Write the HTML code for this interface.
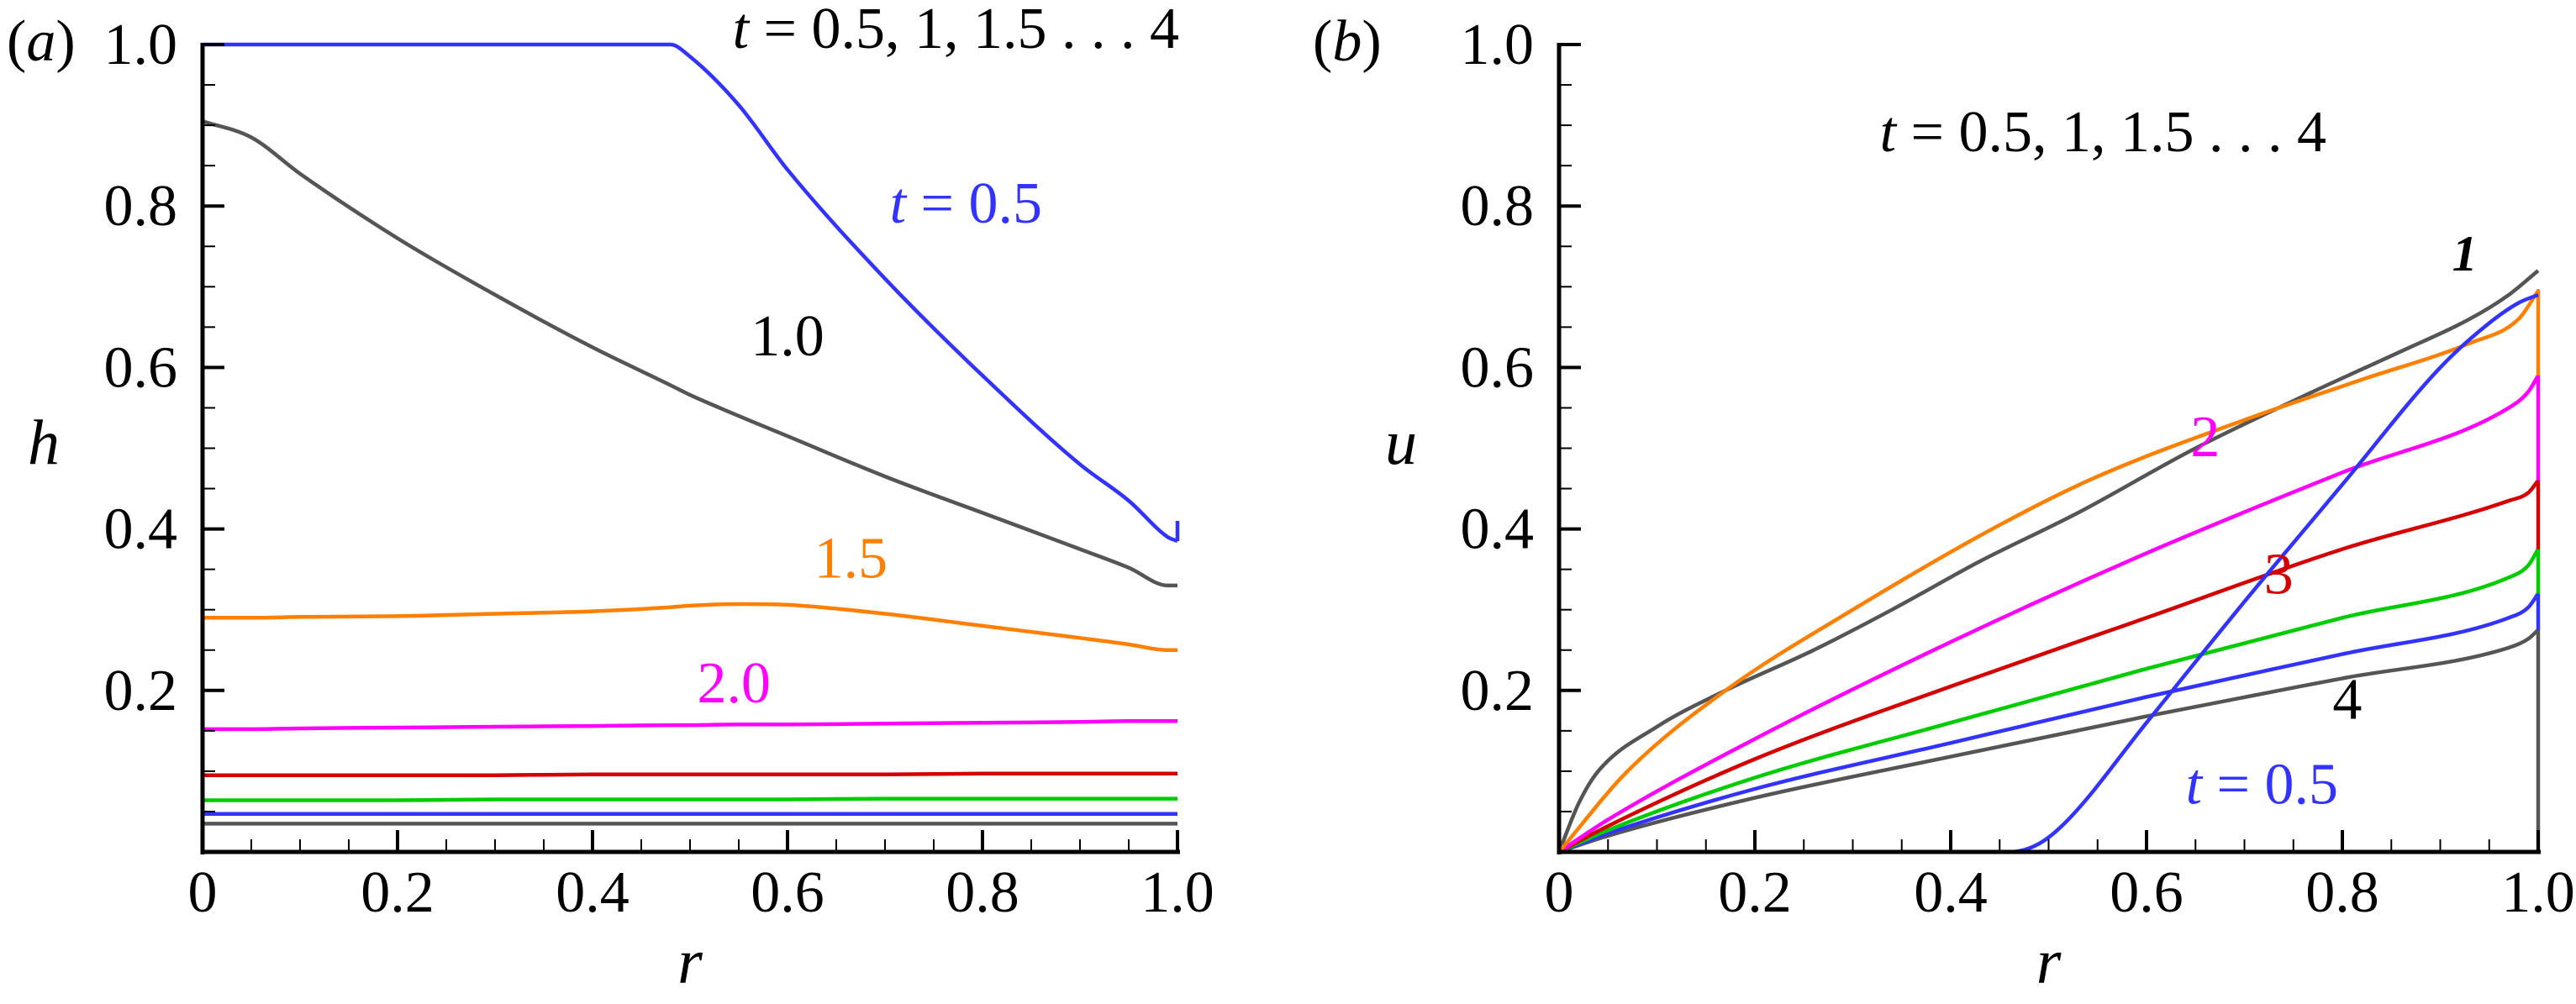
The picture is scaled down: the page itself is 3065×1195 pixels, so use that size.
<!DOCTYPE html>
<html><head><meta charset="utf-8"><style>
html,body{margin:0;padding:0;background:#fff;}
svg{display:block;}
svg text{font-family:"Liberation Serif","DejaVu Serif","Times New Roman",serif;}
</style></head><body>
<svg id="fig" width="3065" height="1195" viewBox="0 0 3065 1195" xmlns="http://www.w3.org/2000/svg"></svg>
<script>
// ---- data ----
const rA = [0,0.05,0.1,0.2,0.3,0.4,0.48,0.5,0.55,0.6,0.7,0.8,0.9,0.95,0.99,1.0];
const hT05 = [1,1,1,1,1,1,1,0.985,0.925,0.845,0.71,0.59,0.48,0.435,0.39,0.385];
const hT10 = [0.905,0.885,0.84,0.76,0.69,0.625,0.578,0.566,0.54,0.515,0.465,0.42,0.375,0.352,0.33,0.33];
const hT15 = [0.29,0.29,0.291,0.292,0.295,0.298,0.303,0.305,0.307,0.306,0.295,0.28,0.265,0.257,0.25,0.25];
const hT20 = [0.152,0.152,0.153,0.154,0.155,0.156,0.157,0.157,0.158,0.158,0.159,0.16,0.161,0.162,0.162,0.162];
const hT25 = [0.095,0.095,0.095,0.095,0.095,0.096,0.096,0.096,0.096,0.096,0.096,0.097,0.097,0.097,0.097,0.097];
const hT30 = [0.064,0.064,0.064,0.064,0.065,0.065,0.065,0.065,0.065,0.065,0.066,0.066,0.066,0.066,0.066,0.066];
const hT35 = [0.047,0.047,0.047,0.047,0.047,0.047,0.047,0.047,0.047,0.047,0.047,0.047,0.047,0.047,0.047,0.047];
const hT40 = [0.035,0.035,0.035,0.035,0.035,0.035,0.035,0.035,0.035,0.035,0.035,0.035,0.035,0.035,0.035,0.035];
const hSpikeR = [1.0,1.0];
const hSpikeT05 = [0.385,0.41];

const rB = [0,0.02,0.04,0.1,0.17,0.26,0.34,0.43,0.53,0.65,0.77,0.86,0.93,0.97,1.0];
const uT10 = [0,0.06,0.1,0.155,0.2,0.25,0.3,0.36,0.42,0.5,0.57,0.62,0.66,0.69,0.72];
const rB2 = [0,0.07,0.17,0.3,0.45,0.55,0.7,0.82,0.93,0.98,1.0,1.0];
const uT15 = [0,0.1,0.2,0.3,0.405,0.465,0.535,0.585,0.63,0.66,0.695,0.59];
const rLin = [0,0.05,0.2,0.4,0.6,0.8,0.97,0.99,1.0,1.0];
const uT20 = [0,0.04,0.14,0.26,0.37,0.47,0.55,0.57,0.59,0.46];
const uT25 = [0,0.032,0.115,0.205,0.29,0.375,0.435,0.445,0.46,0.375];
const uT30 = [0,0.027,0.092,0.16,0.227,0.29,0.34,0.355,0.375,0.32];
const uT35 = [0,0.023,0.078,0.135,0.192,0.245,0.29,0.303,0.32,0.275];
const uT40 = [0,0.02,0.067,0.118,0.168,0.215,0.253,0.264,0.275,0];
const rS = [0,0.46,0.49,0.52,0.6,0.7,0.8,0.9,0.95,0.98,1.0];
const uT05 = [0,0,0.01,0.04,0.16,0.31,0.455,0.6,0.655,0.68,0.69];
const xTicks = [0,0.2,0.4,0.6,0.8,1.0];
const xTickLabels = ["0","0.2","0.4","0.6","0.8","1.0"];
const yTicks = [0.2,0.4,0.6,0.8,1.0];
const yTickLabels = ["0.2","0.4","0.6","0.8","1.0"];

const NS="http://www.w3.org/2000/svg";
const svg=document.getElementById('fig');
function mk(tag,attrs,parent){const e=document.createElementNS(NS,tag);for(const k in attrs)e.setAttribute(k,attrs[k]);(parent||svg).appendChild(e);return e;}
const Y0=1014, Y1=53;
function panel(x0,x1,name){
  const sx=v=>x0+v*(x1-x0), sy=v=>Y0+(Y1-Y0)*v;
  const g=mk('g',{});
  
  
  return {sx,sy,g,x0,x1};
}
function axes(p,ylabel,ylx){
  const ax=mk('g',{},p.g);
  
  
  for(let i=1;i<=20;i++){const v=i*0.05;const major=i%4==0;
    const x=p.sx(v); mk('line',{x1:x,x2:x,y1:Y0,y2:Y0-(major?26:15),stroke:'#000','stroke-width':major?4:2},ax);
    const y=p.sy(v); mk('line',{x1:p.x0,x2:p.x0+(major?26:15),y1:y,y2:y,stroke:'#000','stroke-width':major?4:2},ax);}
  mk('line',{x1:p.x0,x2:p.x0,y1:Y1-2,y2:Y0+3,stroke:'#000','stroke-width':5},ax);
  mk('line',{x1:p.x0-2,x2:p.x1+3,y1:Y0,y2:Y0,stroke:'#000','stroke-width':5},ax);
  xTicks.forEach((v,i)=>{const t=mk('text',{x:p.sx(v),y:1085,'font-size':70,'text-anchor':'middle'},ax);t.textContent=xTickLabels[i];
    
    });
  yTicks.forEach((v,i)=>{const t=mk('text',{x:p.x0-30,y:p.sy(v)+23,'font-size':70,'text-anchor':'end'},ax);t.textContent=yTickLabels[i];
    
    });
  const xl=mk('text',{x:p.sx(0.5),y:1170,'font-size':76,'font-style':'italic','text-anchor':'middle'},ax);xl.textContent='r';
  
  
  const yl=mk('text',{x:ylx,y:552,'font-size':76,'font-style':'italic','text-anchor':'middle'},ax);yl.textContent=ylabel;
  
  
}
function monoSeg(P){
  const n=P.length; if(n<2) return '';
  if(n===2) return ' L'+P[1][0].toFixed(1)+','+P[1][1].toFixed(1);
  const d=[],m=[];
  for(let i=0;i<n-1;i++) d.push((P[i+1][1]-P[i][1])/(P[i+1][0]-P[i][0]));
  m[0]=d[0]; m[n-1]=d[n-2];
  for(let i=1;i<n-1;i++){ m[i]=(d[i-1]*d[i]<=0)?0:(d[i-1]+d[i])/2; }
  for(let i=0;i<n-1;i++){
    if(d[i]===0){m[i]=0;m[i+1]=0;continue;}
    const a=m[i]/d[i],b=m[i+1]/d[i],s=a*a+b*b;
    if(s>9){const t=3/Math.sqrt(s);m[i]=t*a*d[i];m[i+1]=t*b*d[i];}
  }
  let s='';
  for(let i=0;i<n-1;i++){
    const h=(P[i+1][0]-P[i][0])/3;
    s+=' C'+(P[i][0]+h).toFixed(1)+','+(P[i][1]+m[i]*h).toFixed(1)+' '+(P[i+1][0]-h).toFixed(1)+','+(P[i+1][1]-m[i+1]*h).toFixed(1)+' '+P[i+1][0].toFixed(1)+','+P[i+1][1].toFixed(1);
  }
  return s;
}
function line(p,xs,ys,color,name){
  const P=xs.map((x,i)=>[p.sx(x),p.sy(ys[i])]);
  let d='M'+P[0][0].toFixed(1)+','+P[0][1].toFixed(1);
  let run=[P[0]];
  for(let i=1;i<P.length;i++){
    if(Math.abs(P[i][0]-P[i-1][0])<0.5){ d+=monoSeg(run); d+=' L'+P[i][0].toFixed(1)+','+P[i][1].toFixed(1); run=[P[i]]; }
    else run.push(P[i]);
  }
  d+=monoSeg(run);
  const e=mk('path',{d:d,fill:'none',stroke:color,'stroke-width':4.5,'stroke-linejoin':'round'},p.g);
  
  
}
function label(p,x,y,txt,color,name,opts){
  const t=mk('text',Object.assign({x:x,y:y,'font-size':70,fill:color},opts||{}),p.g);
  t.innerHTML=txt;
  
  
}
const BLUE='#3333ff',GRAY='#555555',OR='#ff8000',MAG='#ff00ff',RED='#d40000',GR='#00cc00';
// panel a
const A=panel(241,1401,'panel-a');
line(A,rA,hT40,GRAY,'h-t4.0');line(A,rA,hT35,BLUE,'h-t3.5');line(A,rA,hT30,GR,'h-t3.0');line(A,rA,hT25,RED,'h-t2.5');
line(A,rA,hT20,MAG,'h-t2.0');line(A,rA,hT15,OR,'h-t1.5');line(A,rA,hT10,GRAY,'h-t1.0');line(A,rA,hT05,BLUE,'h-t0.5');
line(A,hSpikeR,hSpikeT05,BLUE,'h-t0.5-spike');
axes(A,'h',52);
label(A,8,72,'(<tspan font-style="italic">a</tspan>)','#000','panel-label-a');
label(A,1403,57,'<tspan font-style="italic">t</tspan> = 0.5, 1, 1.5 . . . 4','#000','time-list-a',{'text-anchor':'end'});
label(A,1240,265,'<tspan font-style="italic">t</tspan> = 0.5',BLUE,'label-t0.5',{'text-anchor':'end'});
label(A,A.sx(0.6),A.sy(0.615),'1.0','#000','label-1.0',{'text-anchor':'middle'});
label(A,A.sx(0.665),A.sy(0.34),'1.5',OR,'label-1.5',{'text-anchor':'middle'});
label(A,A.sx(0.545),A.sy(0.185),'2.0',MAG,'label-2.0',{'text-anchor':'middle'});
// panel b
const B=panel(1855,3020,'panel-b');
line(B,rLin,uT40,GRAY,'u-t4.0');line(B,rLin,uT35,BLUE,'u-t3.5');line(B,rLin,uT30,GR,'u-t3.0');line(B,rLin,uT25,RED,'u-t2.5');
line(B,rLin,uT20,MAG,'u-t2.0');line(B,rB,uT10,GRAY,'u-t1.0');line(B,rB2,uT15,OR,'u-t1.5');line(B,rS,uT05,BLUE,'u-t0.5');
axes(B,'u',1667);
label(B,1562,72,'(<tspan font-style="italic">b</tspan>)','#000','panel-label-b');
label(B,2768,180,'<tspan font-style="italic">t</tspan> = 0.5, 1, 1.5 . . . 4','#000','time-list-b',{'text-anchor':'end'});
label(B,B.sx(0.925),B.sy(0.72),'1','#000','label-1',{'text-anchor':'middle','font-style':'italic','font-weight':'bold','font-size':60});
label(B,B.sx(0.66),B.sy(0.49),'2',MAG,'label-2',{'text-anchor':'middle'});
label(B,B.sx(0.735),B.sy(0.32),'3',RED,'label-3',{'text-anchor':'middle'});
label(B,B.sx(0.805),B.sy(0.165),'4','#000','label-4',{'text-anchor':'middle'});
label(B,B.sx(0.64),B.sy(0.06),'<tspan font-style="italic">t</tspan> = 0.5',BLUE,'label-t0.5-b');
</script>
</body></html>
